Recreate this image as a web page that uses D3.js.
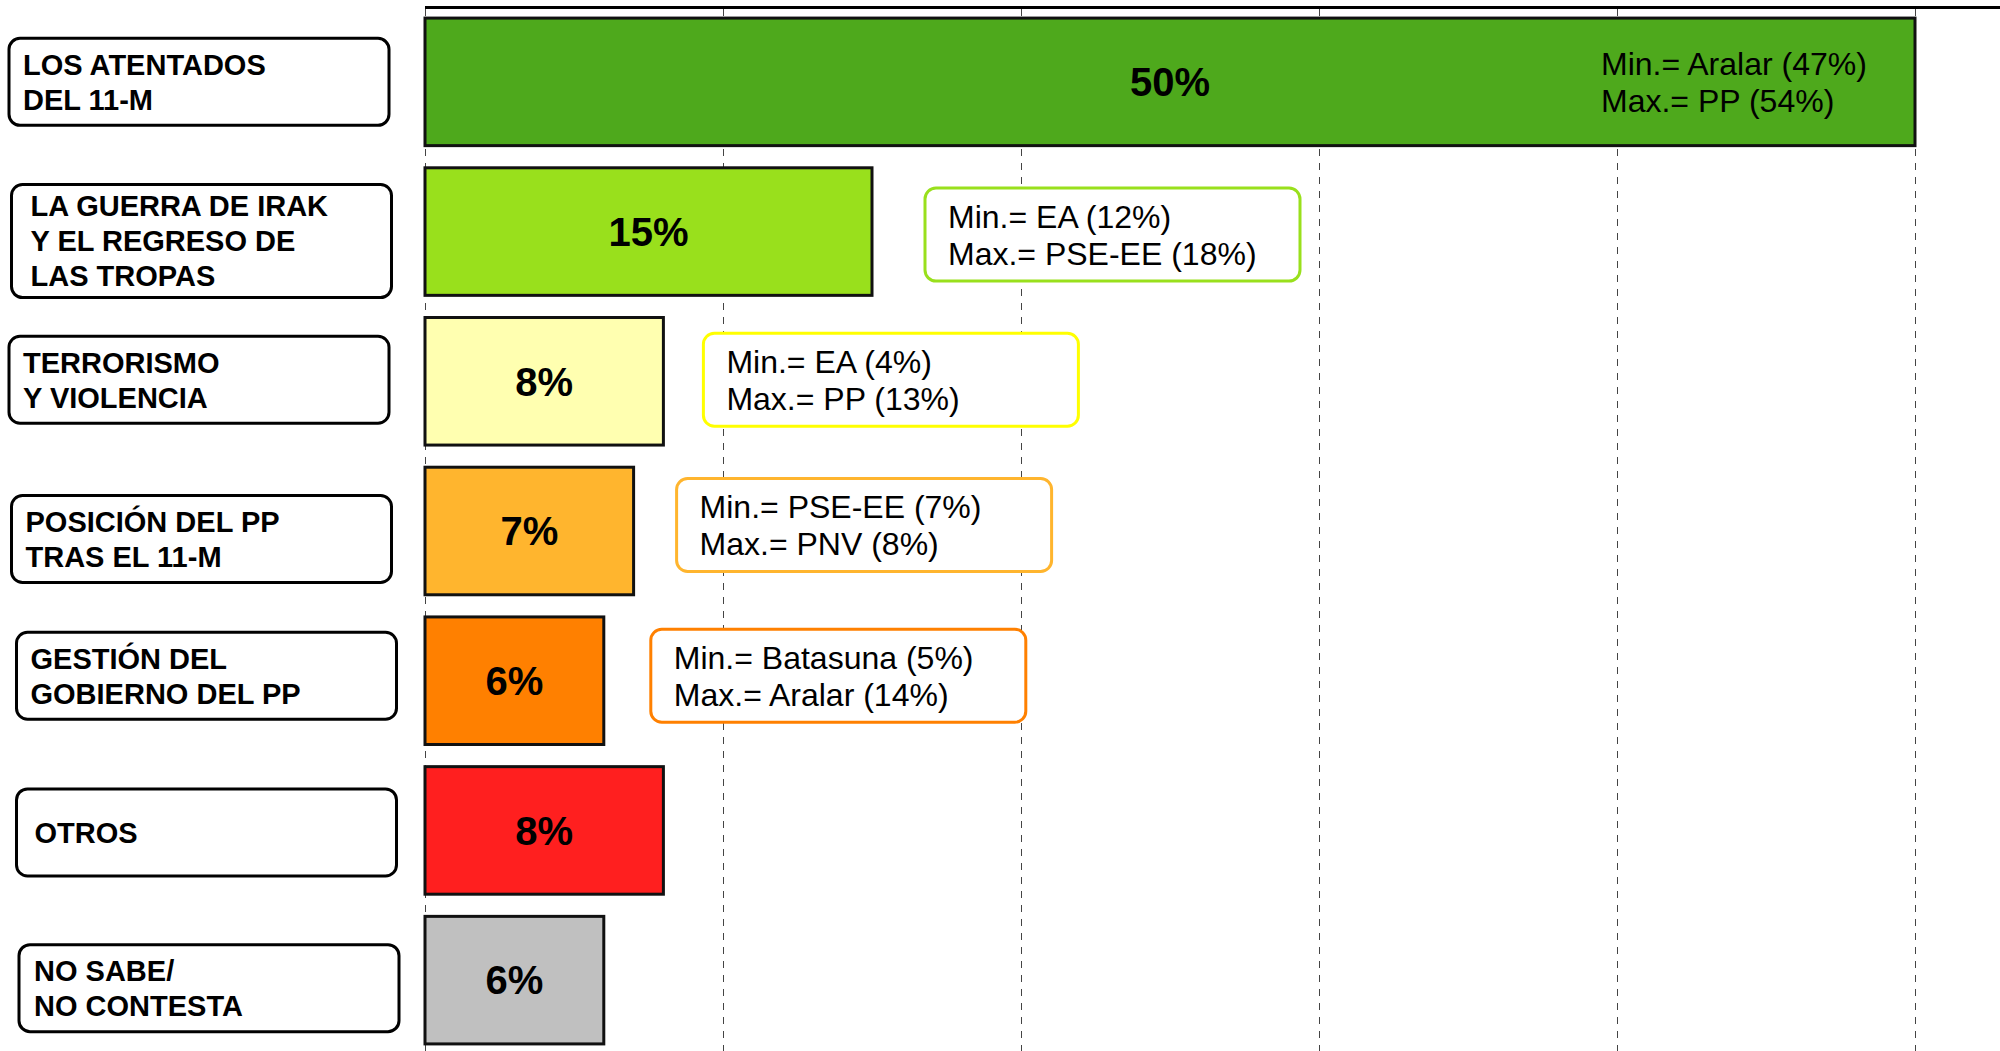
<!DOCTYPE html>
<html>
<head>
<meta charset="utf-8">
<script src="https://cdn.jsdelivr.net/npm/d3@7"></script>
<style>
  body { margin: 0; background: #fff; }
  svg { display: block; font-family: "Liberation Sans", Arial, sans-serif; }
</style>
</head>
<body>
<div id="chart-area"></div>
<script>
// data
var categories = [
  "LOS ATENTADOS|DEL 11-M",
  "LA GUERRA DE IRAK|Y EL REGRESO DE|LAS TROPAS",
  "TERRORISMO|Y VIOLENCIA",
  "POSICIÓN DEL PP|TRAS EL 11-M",
  "GESTIÓN DEL|GOBIERNO DEL PP",
  "OTROS",
  "NO SABE/|NO CONTESTA"
];
var values = [50, 15, 8, 7, 6, 8, 6];
var minLabels = ["Min.= Aralar (47%)", "Min.= EA (12%)", "Min.= EA (4%)", "Min.= PSE-EE (7%)", "Min.= Batasuna (5%)", null, null];
var maxLabels = ["Max.= PP (54%)", "Max.= PSE-EE (18%)", "Max.= PP (13%)", "Max.= PNV (8%)", "Max.= Aralar (14%)", null, null];
var gridTicks = [0, 10, 20, 30, 40, 50];

// styling
var barColors = ["#4ea91c", "#99e01c", "#ffffb0", "#ffb52e", "#ff8000", "#ff1f1f", "#c0c0c0"];
var boxColors = ["none", "#99e01c", "#ffff00", "#ffb52e", "#ff8000", "none", "none"];

// hand placed boxes in the original drawing are a little off the band centres
var catBoxLeft = [9, 11.5, 9, 11.5, 16.5, 16.5, 19];
var catTextPad = [14, 19, 14, 14, 14, 18, 15];
var catBoxNudge = [0, 9.5, -1.5, 8, -5, 2, 8];
var noteGap = [0, 53, 40, 43, 47];
var noteNudge = [0, 3, -1.5, -6, -5];

var width = 2000, height = 1051;

var svg = d3.select("#chart-area").append("svg")
    .attr("width", width)
    .attr("height", height);

var data = categories.map(function(c, i) {
  return { cat: c, lines: c.split("|"), value: values[i], min: minLabels[i], max: maxLabels[i], i: i };
});

var x = d3.scaleLinear()
    .domain([0, 50])
    .range([425, 1915]);

var y = d3.scaleBand()
    .domain(categories)
    .range([7, 1055])
    .paddingInner(0.148)
    .paddingOuter(0.074);

// dashed grid
svg.append("g")
  .selectAll("line")
  .data(gridTicks)
  .enter()
  .append("line")
    .attr("x1", function(d) { return x(d) + 0.5; })
    .attr("x2", function(d) { return x(d) + 0.5; })
    .attr("y1", 9)
    .attr("y2", height)
    .attr("stroke", "#444")
    .attr("stroke-width", 1)
    .style("stroke-dasharray", "7,7");

// top axis line
svg.append("line")
    .attr("x1", x(0))
    .attr("x2", width)
    .attr("y1", 7.5)
    .attr("y2", 7.5)
    .attr("stroke", "#000")
    .attr("stroke-width", 3);

// bars
svg.selectAll("rect.bar")
  .data(data)
  .enter()
  .append("rect")
    .attr("class", "bar")
    .attr("x", x(0))
    .attr("y", function(d) { return y(d.cat); })
    .attr("width", function(d) { return x(d.value) - x(0); })
    .attr("height", y.bandwidth())
    .attr("fill", function(d) { return barColors[d.i]; })
    .attr("stroke", "#111")
    .attr("stroke-width", 3);

// value labels
svg.selectAll("text.val")
  .data(data)
  .enter()
  .append("text")
    .attr("class", "val")
    .attr("x", function(d) { return (x(0) + x(d.value)) / 2; })
    .attr("y", function(d) { return y(d.cat) + y.bandwidth() / 2 + 40 * 0.358; })
    .attr("text-anchor", "middle")
    .attr("font-size", "40px")
    .attr("font-weight", "bold")
    .attr("fill", "#000")
    .text(function(d) { return d.value + "%"; });

// category boxes
var labelH = 35;
var cat = svg.selectAll("g.cat")
  .data(data)
  .enter()
  .append("g")
    .attr("class", "cat")
    .attr("transform", function(d) {
      return "translate(" + catBoxLeft[d.i] + "," + (y(d.cat) + y.bandwidth() / 2 + catBoxNudge[d.i]) + ")";
    });

cat.append("rect")
    .attr("x", 0)
    .attr("y", function(d) { return -(d.lines.length > 2 ? 113 : 87) / 2; })
    .attr("width", 380)
    .attr("height", function(d) { return d.lines.length > 2 ? 113 : 87; })
    .attr("rx", 11)
    .attr("fill", "#fff")
    .attr("stroke", "#000")
    .attr("stroke-width", 3);

cat.each(function(d) {
  var g = d3.select(this);
  var n = d.lines.length;
  d.lines.forEach(function(line, k) {
    g.append("text")
      .attr("x", catTextPad[d.i])
      .attr("y", (k - (n - 1) / 2) * labelH + 29 * 0.358)
      .attr("font-size", "29px")
      .attr("font-weight", "bold")
      .attr("fill", "#000")
      .text(line);
  });
});

// min / max notes
var notes = data.filter(function(d) { return d.min; });
var noteH = 37;

var note = svg.selectAll("g.note")
  .data(notes)
  .enter()
  .append("g")
    .attr("class", "note")
    .attr("transform", function(d) {
      var cx = d.i === 0 ? 1601 : x(d.value) + noteGap[d.i];
      return "translate(" + cx + "," + (y(d.cat) + y.bandwidth() / 2 + noteNudge[d.i]) + ")";
    });

note.filter(function(d) { return d.i > 0; })
  .append("rect")
    .attr("x", 0)
    .attr("y", -46.5)
    .attr("width", 375)
    .attr("height", 93)
    .attr("rx", 11)
    .attr("fill", "#fff")
    .attr("stroke", function(d) { return boxColors[d.i]; })
    .attr("stroke-width", 3);

note.each(function(d) {
  var g = d3.select(this);
  var dx = d.i === 0 ? 0 : 23;
  [d.min, d.max].forEach(function(t, k) {
    g.append("text")
      .attr("x", dx)
      .attr("y", (k - 0.5) * noteH + 32 * 0.358)
      .attr("font-size", "32px")
      .attr("fill", "#000")
      .text(t);
  });
});
</script>
</body>
</html>
